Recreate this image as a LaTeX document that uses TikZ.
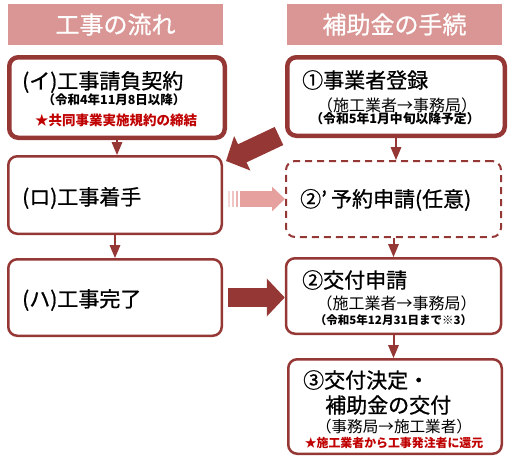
\documentclass[tikz,border=0pt]{standalone}
\usepackage{fontspec}
\setmainfont{Noto Sans CJK JP}
\newfontfamily\heavyjp[FakeBold=0.8]{Noto Sans CJK JP}
\usepackage{tikz}
\usetikzlibrary{arrows,arrows.meta,calc}
\definecolor{dkred}{RGB}{149,55,53}
\definecolor{hdpink}{RGB}{217,150,148}
\definecolor{lightarrow}{RGB}{230,160,158}
\definecolor{redtxt}{RGB}{192,0,0}

\begin{document}
\begin{tikzpicture}[x=1pt,y=-1pt,line join=round,>=triangle 45,
    box/.style={draw=dkred,line width=2.5pt,rounded corners=9pt,fill=white,minimum width=213.5pt,minimum height=77pt},
    head/.style={fill=hdpink,text=white,minimum width=215pt,minimum height=41pt,font=\heavyjp\fontsize{24}{24}\selectfont},
    ttl/.style={anchor=west,inner sep=0pt,font=\heavyjp\fontsize{21}{21}\selectfont},
    sub/.style={inner sep=0pt,font=\fontsize{16}{16}\selectfont},
    note/.style={inner sep=0pt,font=\bfseries\fontsize{12.5}{12.5}\selectfont},
    flow/.style={draw=dkred,line width=2pt,->},
    bigarrow/.style={draw=dkred,line width=19pt,line cap=butt,-{Triangle[length=18pt,width=37pt]}}]
    \useasboundingbox (0,0) rectangle (512,469);
    % headers
    \node[head] (hflow) at (115.5,24.5) {工事の流れ};
    \node[head] (hsub) at (394.5,24.5) {補助金の手続};
    % boxes
    \node[box,line width=4.5pt,minimum width=215.5pt,minimum height=80.5pt] (keiyaku) at (117,97.5) {};
    \node[box,line width=4.5pt,minimum width=217.5pt,minimum height=78.5pt] (touroku) at (396,96.5) {};
    \node[box,minimum height=77.5pt] (chakushu) at (115,195) {};
    \node[box,line width=2pt,dash pattern=on 7pt off 5pt,minimum width=215pt,minimum height=76pt] (yoyaku) at (393.5,199) {};
    \node[box,minimum height=76.5pt] (kanryou) at (115,297.5) {};
    \node[box,minimum width=215pt,minimum height=75.5pt] (koufu) at (393.5,296) {};
    \node[box,minimum height=94.5pt] (kettei) at (395,406.5) {};
    % texts
    \node[ttl] (tkeiyaku) at (22,82) {(イ)工事請負契約};
    \node[note] (dkeiyaku) at (114,100) {（令和4年11月8日以降）};
    \node[note,text=redtxt,font=\bfseries\fontsize{13.5}{13.5}\selectfont] (rkeiyaku) at (116,120) {★共同事業実施規約の締結};
    \node[ttl] (ttouroku) at (302,80) {①事業者登録};
    \node[sub] (stouroku) at (397,105) {（施工業者→事務局）};
    \node[note,font=\bfseries\fontsize{12.8}{12.8}\selectfont] (dtouroku) at (395,119) {（令和5年1月中旬以降予定）};
    \node[ttl] (tchakushu) at (22,198) {(ロ)工事着手};
    \node[ttl] (tyoyaku) at (300,200) {②’\hspace{4pt}予約申請(任意)};
    \node[ttl] (tkanryou) at (22,300) {(ハ)工事完了};
    \node[ttl] (tkoufu) at (302,280) {②交付申請};
    \node[sub] (skoufu) at (396.5,303) {（施工業者→事務局）};
    \node[note,font=\bfseries\fontsize{11.5}{11.5}\selectfont] (dkoufu) at (393.5,320) {（令和5年12月31日まで※3）};
    \node[ttl] (tkettei) at (303,380) {③交付決定・};
    \node[ttl] (tkettei2) at (325,405) {補助金の交付};
    \node[sub,font=\fontsize{15.6}{15.6}\selectfont] (skettei) at (394,427) {（事務局→施工業者）};
    \node[note,text=redtxt,font=\bfseries\fontsize{11.9}{11.9}\selectfont] (rkettei) at (394,443) {★施工業者から工事発注者に還元};
    % thin arrows
    \draw[flow] (keiyaku.south) -- (keiyaku.south |- chakushu.north);
    \draw[flow] (touroku.south) -- (touroku.south |- yoyaku.north);
    \draw[flow] (chakushu.south) -- (kanryou.north);
    \draw[flow] (yoyaku.south) -- (koufu.north);
    \draw[flow] (koufu.south) -- (koufu.south |- kettei.north);
    % big arrows
    \draw[bigarrow,line width=20pt] ($(touroku.south west)+(-6,-2)$) -- ($(chakushu.north east)+(3,6)$);
    \draw[bigarrow] ($(kanryou.east)+(5,0)$) -- (kanryou.east -| koufu.west);
    \foreach \dx/\op in {6/0.4,10/0.6,14/0.8}
    \draw[lightarrow,opacity=\op,line width=1.8pt] ($(chakushu.east |- yoyaku.west)+(\dx,-8)$) -- ++(0,16);
    \draw[bigarrow,lightarrow,line width=16pt,-{Triangle[length=13pt,width=24pt]}] ($(chakushu.east |- yoyaku.west)+(17,0)$) -- (yoyaku.west);
\end{tikzpicture}
\end{document}
